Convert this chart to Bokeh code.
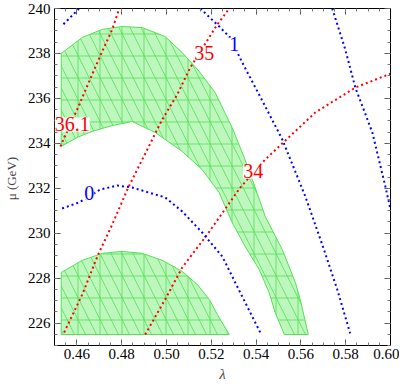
from bokeh.plotting import figure
from bokeh.models import (LinearAxis, ColumnDataSource, LabelSet, FixedTicker,
                          PrintfTickFormatter, CustomJSTickFormatter)
from bokeh.embed import file_html
from bokeh.resources import INLINE

# ---- data ----
band_upper_x = [0.4530, 0.4624, 0.4713, 0.4802, 0.4892, 0.4994, 0.5070, 0.5146, 0.5217, 0.5293,
                0.5347, 0.5391, 0.5441, 0.5517, 0.5575, 0.5597, 0.5633,
                0.5526, 0.5485, 0.5458, 0.5414, 0.5351, 0.5293, 0.5235, 0.5159, 0.5070,
                0.4950, 0.4847, 0.4758, 0.4668, 0.4601, 0.4530]
band_upper_y = [238.00, 238.71, 239.07, 239.20, 239.15, 238.75, 238.04, 237.20, 236.26, 234.70,
                233.37, 232.17, 230.74, 229.27, 227.81, 227.05, 225.49,
                225.49, 226.47, 227.36, 228.38, 229.41, 230.48, 231.81, 232.83, 233.64,
                234.48, 234.97, 234.79, 234.53, 234.26, 233.86]

band_lower_x = [0.4530, 0.4624, 0.4713, 0.4802, 0.4892, 0.4981, 0.5070, 0.5137, 0.5191, 0.5227, 0.5280, 0.4530]
band_lower_y = [228.25, 228.79, 229.10, 229.19, 229.10, 228.79, 228.30, 227.72, 227.05, 226.38, 225.49, 225.49]

# red contours
red_361_x = [0.4526, 0.4601, 0.4668, 0.4713, 0.4758, 0.4789]
red_361_y = [233.86, 235.50, 237.06, 238.09, 239.07, 240.00]
red_35_x = [0.4543, 0.4624, 0.4695, 0.4758, 0.4825, 0.4892, 0.4981, 0.5048, 0.5106, 0.5227, 0.5280]
red_35_y = [225.58, 227.27, 229.05, 230.39, 231.94, 233.28, 235.06, 236.17, 237.37, 239.29, 240.00]
red_34_x = [0.4905, 0.4994, 0.5070, 0.5182, 0.5329, 0.5441, 0.5526, 0.5664, 0.5843, 0.6000]
red_34_y = [225.49, 227.05, 228.47, 229.94, 232.03, 233.28, 234.08, 235.37, 236.48, 237.10]

# blue contours
blue_0_x = [0.4534, 0.4610, 0.4704, 0.4780, 0.4847, 0.4994, 0.5070, 0.5159, 0.5249, 0.5338, 0.5423]
blue_0_y = [231.10, 231.37, 231.94, 232.12, 232.03, 231.59, 230.97, 230.03, 228.96, 227.18, 225.49]
blue_1_x = [0.5151, 0.5235, 0.5284, 0.5338, 0.5441, 0.5517, 0.5620, 0.5695, 0.5762, 0.5820]
blue_1_y = [240.00, 239.20, 238.71, 237.60, 235.64, 234.17, 231.63, 229.50, 227.50, 225.54]
blue_2_x = [0.5740, 0.5798, 0.5843, 0.5919, 0.5977, 0.6000]
blue_2_y = [240.00, 238.18, 236.48, 234.48, 232.08, 231.05]
blue_m1_x = [0.4540, 0.4548, 0.4610]
blue_m1_y = [239.30, 239.38, 240.00]

# contour labels
red_label_x = [0.4579, 0.5169, 0.5387]
red_label_y = [234.84, 238.00, 232.75]
red_label_text = ["36.1", "35", "34"]
blue_label_x = [0.4655, 0.5303]
blue_label_y = [231.81, 238.40]
blue_label_text = ["0", "1"]

x_major = [0.46, 0.48, 0.50, 0.52, 0.54, 0.56, 0.58, 0.60]
x_minor = [0.45 + 0.005 * i for i in range(31)]
y_major = [226, 228, 230, 232, 234, 236, 238, 240]
y_minor = [225 + 0.5 * i for i in range(31)]

# ---- figure ----
p = figure(frame_width=336, frame_height=337, x_range=(0.45, 0.60), y_range=(225, 240),
           output_backend="svg", toolbar_location=None,
           min_border_left=44, min_border_right=9, min_border_top=8, min_border_bottom=20)
p.xgrid.visible = False
p.ygrid.visible = False
p.outline_line_color = "black"
p.background_fill_color = "white"

FONT = "Liberation Serif"
GREEN_FILL = "#bdf7bd"
GREEN_LINE = "#55e055"

for bx, by in [(band_upper_x, band_upper_y), (band_lower_x, band_lower_y)]:
    p.patch(bx, by, fill_color=GREEN_FILL, fill_alpha=1.0, line_color=GREEN_LINE, line_width=1,
            hatch_pattern="+", hatch_color=GREEN_LINE, hatch_scale=22, hatch_alpha=0.8, hatch_weight=1)
    p.patch(bx, by, fill_alpha=0, line_alpha=0,
            hatch_pattern="\\", hatch_color=GREEN_LINE, hatch_scale=22, hatch_alpha=0.8, hatch_weight=1)

RED = "#ff0000"
BLUE = "#0000ff"
for lx, ly in [(red_361_x, red_361_y), (red_35_x, red_35_y), (red_34_x, red_34_y)]:
    p.line(lx, ly, line_color=RED, line_width=2, line_dash="2 3")
for lx, ly in [(blue_0_x, blue_0_y), (blue_1_x, blue_1_y), (blue_2_x, blue_2_y), (blue_m1_x, blue_m1_y)]:
    p.line(lx, ly, line_color=BLUE, line_width=2, line_dash="2 3")

red_src = ColumnDataSource(dict(x=red_label_x, y=red_label_y, t=red_label_text))
blue_src = ColumnDataSource(dict(x=blue_label_x, y=blue_label_y, t=blue_label_text))
for src, col in [(red_src, RED), (blue_src, BLUE)]:
    p.add_layout(LabelSet(x="x", y="y", text="t", source=src, text_color=col,
                          text_font=FONT, text_font_size="20px", text_align="center",
                          text_baseline="middle", background_fill_color="white",
                          background_fill_alpha=1.0))

# ---- axes ----
p.add_layout(LinearAxis(), "above")
p.add_layout(LinearAxis(), "right")

for ax in p.xaxis:
    ax.ticker = FixedTicker(ticks=x_major, minor_ticks=x_minor)
    ax.formatter = PrintfTickFormatter(format="%.2f")
for ax in p.yaxis:
    ax.ticker = FixedTicker(ticks=y_major, minor_ticks=y_minor)
    ax.formatter = PrintfTickFormatter(format="%d")

for ax in p.xaxis + p.yaxis:
    ax.axis_line_color = "black"
    ax.major_tick_in = 6
    ax.major_tick_out = 0
    ax.minor_tick_in = 3
    ax.minor_tick_out = 0
    ax.major_tick_line_color = "#555555"
    ax.minor_tick_line_color = "#777777"
    ax.major_label_text_font = FONT
    ax.major_label_text_font_size = "15px"
    ax.major_label_text_color = "black"

for ax in (p.above[0], p.right[0]):
    ax.formatter = CustomJSTickFormatter(code="return ''")
    ax.major_label_standoff = 0

p.below[0].major_label_standoff = 3
p.below[0].axis_label = "λ"
p.below[0].axis_label_text_font = FONT
p.below[0].axis_label_text_font_style = "italic"
p.below[0].axis_label_text_font_size = "15px"
p.below[0].axis_label_standoff = 4

p.left[0].major_label_standoff = 4
p.left[0].axis_label = "μ  (GeV)"
p.left[0].axis_label_text_font = FONT
p.left[0].axis_label_text_font_style = "normal"
p.left[0].axis_label_text_font_size = "13px"
p.left[0].axis_label_standoff = 6

open("out.html", "w").write(file_html(p, INLINE))
